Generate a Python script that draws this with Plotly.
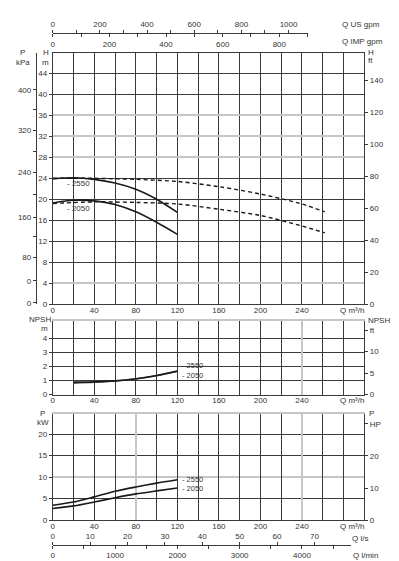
import plotly.graph_objects as go

W, H = 399, 561

# ---------------- data ----------------
q_solid = [0, 20, 40, 60, 80, 100, 120]
h_2550 = [23.9, 24.1, 23.8, 23.1, 21.9, 20.0, 17.5]
h_2050 = [19.3, 19.8, 19.7, 19.0, 17.6, 15.6, 13.3]
q_dash = [0, 40, 80, 120, 160, 200, 240, 262]
h_2550_dash = [24.0, 24.0, 23.8, 23.4, 22.4, 21.0, 19.1, 17.6]
h_2050_dash = [19.2, 19.5, 19.4, 19.1, 18.1, 16.9, 14.9, 13.6]
q_npsh = [20, 40, 60, 80, 100, 120]
npsh_2550 = [0.88, 0.90, 0.97, 1.12, 1.35, 1.66]
npsh_2050 = [0.80, 0.86, 0.95, 1.10, 1.33, 1.64]
p_2550 = [3.45, 4.2, 5.4, 6.7, 7.7, 8.6, 9.4]
p_2050 = [2.7, 3.3, 4.2, 5.2, 6.1, 6.8, 7.45]

q_ticks = list(range(0, 301, 20))
q_labels = [str(v) if (v % 40 == 0 and v <= 240) else "" for v in q_ticks]
q_unit = "Q m³/h"

h_ticks = list(range(0, 45, 4))
h_gray = [4, 28, 32, 36]
ft_ticks = list(range(0, 141, 20))
kpa_pos = [40.9, 33.1, 25.1, 16.6, 8.9, 4.4, 0.25, 37.2, 29.2, 21.0, 12.8]
kpa_text = ["400", "320", "240", "160", "80", "0", "0", "", "", "", ""]

npsh_ticks = [0, 1, 2, 3, 4]
npsh_ft = [0, 5, 10, 15]
npsh_ft_text = ["0", "5", "10", "ft"]

p_ticks = [0, 5, 10, 15, 20]
p_gray = [10]
hp_ticks = [0, 10, 20, 30]
hp_text = ["0", "10", "20", "HP"]

us_ticks = list(range(0, 1001, 100))
us_text = [str(v) if v % 200 == 0 else "" for v in us_ticks]
imp_ticks = list(range(0, 901, 100))
imp_text = [str(v) if v % 200 == 0 else "" for v in imp_ticks]
ls_ticks = list(range(0, 71, 10))
ls_text = [str(v) for v in ls_ticks]
lmin_ticks = list(range(0, 4501, 500))
lmin_text = [str(v) if v % 1000 == 0 else "" for v in lmin_ticks]

series_names = ["2550", "2050"]

# ---------------- geometry ----------------
def fx(p):
    return p / W

def fy(p):
    return 1 - p / H

X0, X1 = 43, 356
XD = [fx(X0), fx(X1)]
pxu = (X1 - X0) / 300.0
YD1 = [fy(298.7), fy(45)]
YD2 = [fy(390), fy(316)]
YD3 = [fy(516.7), fy(410)]
H_MAX = 48
N_MAX = 5.2
P_MAX = 24.6

DARK = "#3a3a3a"
GRAY = "#c6c6c6"
TXT = "#333333"
FONT = dict(family="Liberation Sans, Arial, sans-serif", size=8, color=TXT)
SMALL = dict(family="Liberation Sans, Arial, sans-serif", size=7.5, color=TXT)
LINE = "#1a1a1a"

fig = go.Figure()

def curve(x, y, xa, ya, dash=None, color=LINE, w=1.6):
    fig.add_trace(go.Scatter(x=x, y=y, xaxis=xa, yaxis=ya, mode="lines",
                             line=dict(color=color, width=w, dash=dash, shape="spline", smoothing=0.8),
                             showlegend=False, hoverinfo="skip"))

def dummy(xa, ya):
    fig.add_trace(go.Scatter(x=[], y=[], xaxis=xa, yaxis=ya, mode="lines",
                             showlegend=False, hoverinfo="skip"))

# top chart curves
curve(q_dash, h_2550_dash, "x", "y", dash="4px,3px", w=1.4)
curve(q_dash, h_2050_dash, "x", "y", dash="4px,3px", w=1.4)
curve(q_solid, h_2550, "x", "y")
curve(q_solid, h_2050, "x", "y")
# NPSH
curve(q_npsh, npsh_2050, "x2", "y2", color="#555555", w=1.4)
curve(q_npsh, npsh_2550, "x2", "y2")
# power
curve(q_solid, p_2550, "x3", "y3")
curve(q_solid, p_2050, "x3", "y3")

for xa, ya in [("x", "y4"), ("x", "y5"), ("x", "y6"), ("x", "y7"),
               ("x5", "y2"), ("x6", "y2"), ("x2", "y8"),
               ("x7", "y3"), ("x8", "y3"), ("x3", "y9"), ("x3", "y10"), ("x3", "y11"),
               ("x9", "y12"), ("x10", "y12"), ("x11", "y12"), ("x12", "y12")]:
    dummy(xa, ya)

base = dict(zeroline=False, tickfont=FONT, tickmode="array", fixedrange=True)

def ax(**kw):
    d = dict(base)
    d.update(kw)
    return d

qdark2 = [v for v in q_ticks if v not in (0, 240, 300)]
qdark3 = [v for v in q_ticks if v not in (0, 80, 240, 300)]

layout = dict(
    width=W, height=H, margin=dict(l=0, r=0, t=0, b=0),
    paper_bgcolor="white", plot_bgcolor="rgba(0,0,0,0)",
    font=FONT, showlegend=False,
    # ---- top chart ----
    xaxis=ax(domain=XD, anchor="y", range=[0, 300], tickvals=q_ticks, ticktext=q_labels,
             showgrid=True, gridcolor=DARK, gridwidth=1, showline=True, linecolor=DARK,
             mirror=True, ticks="", ticklabelstandoff=-2),
    yaxis=ax(domain=YD1, anchor="x", range=[0, H_MAX], tickvals=h_ticks,
             ticktext=[str(v) for v in h_ticks], showgrid=False, showline=True,
             linecolor=DARK, ticks="outside", ticklen=3, tickcolor=DARK),
    yaxis4=ax(overlaying="y", anchor="x", range=[0, H_MAX], tickvals=h_gray,
              showgrid=True, gridcolor=GRAY, gridwidth=2, showticklabels=False,
              ticks="", showline=False),
    yaxis5=ax(overlaying="y", anchor="x", range=[0, H_MAX],
              tickvals=[v for v in h_ticks if v not in h_gray and v != 0],
              showgrid=True, gridcolor=DARK, gridwidth=1, showticklabels=False,
              ticks="", showline=False),
    yaxis6=ax(overlaying="y", anchor="x", side="right", range=[0, H_MAX / 0.3048],
              tickvals=ft_ticks, ticktext=[str(v) for v in ft_ticks], showgrid=False,
              showline=True, linecolor=DARK, ticks="outside", ticklen=3, tickcolor=DARK),
    yaxis7=ax(overlaying="y", anchor="free", position=fx(26), side="left",
              range=[0, H_MAX], tickvals=kpa_pos, ticktext=kpa_text, showgrid=False,
              showline=True, linecolor=DARK, ticks="outside", ticklen=3, tickcolor=DARK),
    # ---- NPSH chart ----
    xaxis2=ax(domain=XD, anchor="y2", range=[0, 300], tickvals=q_ticks, ticktext=q_labels,
              showgrid=False, showline=True, linecolor=DARK, ticks="", ticklabelstandoff=-2),
    xaxis5=ax(overlaying="x2", anchor="y2", range=[0, 300], tickvals=qdark2,
              showgrid=True, gridcolor=DARK, gridwidth=1, showticklabels=False, ticks=""),
    xaxis6=ax(overlaying="x2", anchor="y2", side="top", range=[0, 300], tickvals=[240],
              showgrid=True, gridcolor=GRAY, gridwidth=2, showticklabels=False, ticks="",
              showline=True, linecolor=GRAY, linewidth=1.5),
    yaxis2=ax(domain=YD2, anchor="x2", range=[0, N_MAX], tickvals=npsh_ticks,
              ticktext=[str(v) for v in npsh_ticks], showgrid=True, gridcolor=DARK,
              gridwidth=1, showline=True, linecolor=DARK, ticks="outside", ticklen=3,
              tickcolor=DARK),
    yaxis8=ax(overlaying="y2", anchor="x2", side="right", range=[0, N_MAX / 0.3048],
              tickvals=npsh_ft, ticktext=npsh_ft_text, showgrid=False, showline=True,
              linecolor=DARK, ticks="outside", ticklen=3, tickcolor=DARK),
    # ---- power chart ----
    xaxis3=ax(domain=XD, anchor="y3", range=[0, 300], tickvals=q_ticks, ticktext=q_labels,
              showgrid=False, showline=True, linecolor=DARK, ticks="", ticklabelstandoff=-2),
    xaxis7=ax(overlaying="x3", anchor="y3", range=[0, 300], tickvals=qdark3,
              showgrid=True, gridcolor=DARK, gridwidth=1, showticklabels=False, ticks=""),
    xaxis8=ax(overlaying="x3", anchor="y3", side="top", range=[0, 300], tickvals=[80, 240],
              showgrid=True, gridcolor=GRAY, gridwidth=2, showticklabels=False, ticks="",
              showline=True, linecolor=GRAY, linewidth=1.5),
    yaxis3=ax(domain=YD3, anchor="x3", range=[0, P_MAX], tickvals=p_ticks,
              ticktext=[str(v) for v in p_ticks], showgrid=False, showline=True,
              linecolor=DARK, ticks="outside", ticklen=3, tickcolor=DARK),
    yaxis9=ax(overlaying="y3", anchor="x3", range=[0, P_MAX], tickvals=[5, 15, 20],
              showgrid=True, gridcolor=DARK, gridwidth=1, showticklabels=False, ticks=""),
    yaxis10=ax(overlaying="y3", anchor="x3", range=[0, P_MAX], tickvals=p_gray,
               showgrid=True, gridcolor=GRAY, gridwidth=2, showticklabels=False, ticks=""),
    yaxis11=ax(overlaying="y3", anchor="x3", side="right", range=[0, P_MAX / 0.7457],
               tickvals=hp_ticks, ticktext=hp_text, showgrid=False, showline=True,
               linecolor=DARK, ticks="outside", ticklen=3, tickcolor=DARK),
    # ---- flow unit axes ----
    yaxis12=dict(domain=[0.97, 1.0], anchor="free", position=0, range=[0, 1], visible=False),
)

top_w = (300 - X0) / pxu      # m3/h covered by gpm scale line
bot_w = (343 - X0) / pxu      # m3/h covered by l/s scale line
layout["xaxis9"] = ax(domain=[fx(X0), fx(300)], anchor="free", position=fy(25.7), side="top",
                      range=[0, top_w * 4.40287], tickvals=us_ticks, ticktext=us_text,
                      showgrid=False, showline=True, linecolor=DARK, ticks="outside",
                      ticklen=3, tickcolor=DARK)
layout["xaxis10"] = ax(domain=[fx(X0), fx(300)], anchor="free", position=fy(25.7), side="bottom",
                       range=[0, top_w * 3.66615], tickvals=imp_ticks, ticktext=imp_text,
                       showgrid=False, showline=True, linecolor=DARK, ticks="outside",
                       ticklen=3, tickcolor=DARK)
layout["xaxis11"] = ax(domain=[fx(X0), fx(343)], anchor="free", position=fy(541.7), side="top",
                       range=[0, bot_w / 3.6], tickvals=ls_ticks, ticktext=ls_text,
                       showgrid=False, showline=True, linecolor=DARK, ticks="outside",
                       ticklen=3, tickcolor=DARK)
layout["xaxis12"] = ax(domain=[fx(X0), fx(343)], anchor="free", position=fy(541.7), side="bottom",
                       range=[0, bot_w * 1000 / 60], tickvals=lmin_ticks, ticktext=lmin_text,
                       showgrid=False, showline=True, linecolor=DARK, ticks="outside",
                       ticklen=3, tickcolor=DARK)

fig.update_layout(**layout)

# ---------------- text annotations ----------------
def note(text, x, y, xanchor="center", xref="paper", yref="paper", font=FONT):
    if xref == "paper":
        x = fx(x)
    if yref == "paper":
        y = fy(y)
    fig.add_annotation(text=text, x=x, y=y, xref=xref, yref=yref, showarrow=False,
                       xanchor=xanchor, yanchor="middle", font=font, borderpad=0)

# axis titles
note("P", 13, 45); note("kPa", 13, 55)
note("H", 36, 45); note("m", 36, 55)
note("H", 359, 45, "left"); note("ft", 359, 53, "left")
note("Q US gpm", 333, 17, "left")
note("Q IMP gpm", 333, 34, "left")
note(q_unit, 357, 305, "right")
note(q_unit, 357, 396.5, "right")
note(q_unit, 357, 523, "right")
note("NPSH", 42, 314, "right"); note("m", 35, 323)
note("NPSH", 359, 315, "left")
note("P", 33, 409); note("kW", 33, 418)
note("P", 363, 409)
note("Q l/s", 343, 535, "left")
note("Q l/min", 344, 552, "left")

# curve labels (series names placed next to curve ends)
note("- " + series_names[0], 13, 23.1, "left", "x", "y")
note("- " + series_names[1], 13, 18.2, "left", "x", "y")
note("- " + series_names[0], 123.5, 2.07, "left", "x2", "y2", SMALL)
note("- " + series_names[1], 123.5, 1.38, "left", "x2", "y2", SMALL)
note("- " + series_names[0], 123.5, 9.5, "left", "x3", "y3", SMALL)
note("- " + series_names[1], 123.5, 7.3, "left", "x3", "y3", SMALL)

fig.write_html("out.html")
